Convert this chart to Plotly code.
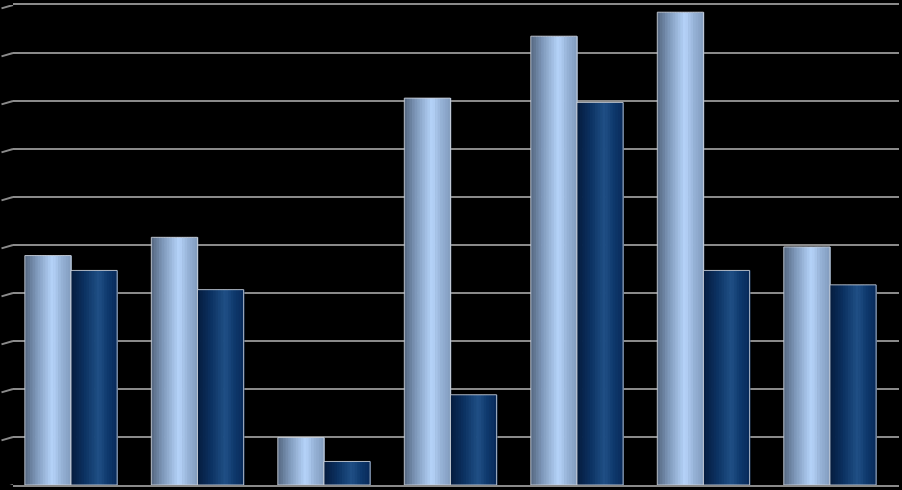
import plotly.graph_objects as go

categories = ["G1", "G2", "G3", "G4", "G5", "G6", "G7"]
series_a = [4.78, 5.16, 0.99, 8.06, 9.35, 9.85, 4.96]
series_b = [4.47, 4.07, 0.49, 1.88, 7.97, 4.47, 4.17]


def lerp(c1, c2, t):
    return tuple(int(round(a + (b - a) * t)) for a, b in zip(c1, c2))


def gradient(stops, t):
    for (p1, c1), (p2, c2) in zip(stops, stops[1:]):
        if p1 <= t <= p2:
            return lerp(c1, c2, (t - p1) / (p2 - p1) if p2 > p1 else 0)
    return stops[-1][1]


light_stops = [(0.0, (84, 102, 128)), (0.25, (126, 152, 186)), (0.6, (182, 212, 250)),
               (0.8, (150, 178, 214)), (1.0, (130, 156, 190))]
dark_stops = [(0.0, (5, 28, 62)), (0.3, (12, 50, 98)), (0.6, (32, 80, 134)),
              (0.8, (14, 56, 108)), (1.0, (8, 42, 90))]

BW = 0.365
N = 18
fig = go.Figure()
for values, stops, base in [(series_a, light_stops, -BW), (series_b, dark_stops, 0.0)]:
    for i in range(N):
        t = (i + 0.5) / N
        r, g, b = gradient(stops, t)
        fig.add_trace(go.Bar(
            x=categories, y=values, width=BW / N * 1.3, offset=base + i * BW / N,
            marker=dict(color=f"rgb({r},{g},{b})", line=dict(width=0)),
            opacity=1, showlegend=False, hoverinfo="skip"))
    fig.add_trace(go.Bar(
        x=categories, y=values, width=BW, offset=base,
        marker=dict(color="rgba(0,0,0,0)", line=dict(color="rgba(205,210,220,0.85)", width=1)),
        opacity=1, showlegend=False, hoverinfo="skip"))

shapes = []
for v in range(0, 11):
    shapes.append(dict(type="line", xref="paper", yref="y", x0=-0.013, x1=0.0,
                       y0=v - 0.07, y1=v, line=dict(color="#8a8a8a", width=2), layer="below"))

fig.update_layout(
    width=902, height=490,
    margin=dict(l=13, r=3, t=3, b=5),
    paper_bgcolor="black", plot_bgcolor="black",
    barmode="overlay",
    shapes=shapes,
    xaxis=dict(type="category", range=[-0.4585, 6.546], showgrid=False, showticklabels=False,
               zeroline=False, showline=True, linecolor="#8a8a8a", linewidth=2, mirror=True, ticks=""),
    yaxis=dict(range=[0, 10], dtick=1, showgrid=True, gridcolor="#8a8a8a", gridwidth=2,
               showticklabels=False, zeroline=False, ticks=""),
)
fig.write_html("out.html", config={"displayModeBar": False},
               post_script="document.body.style.margin='0px';document.body.style.background='black';")
